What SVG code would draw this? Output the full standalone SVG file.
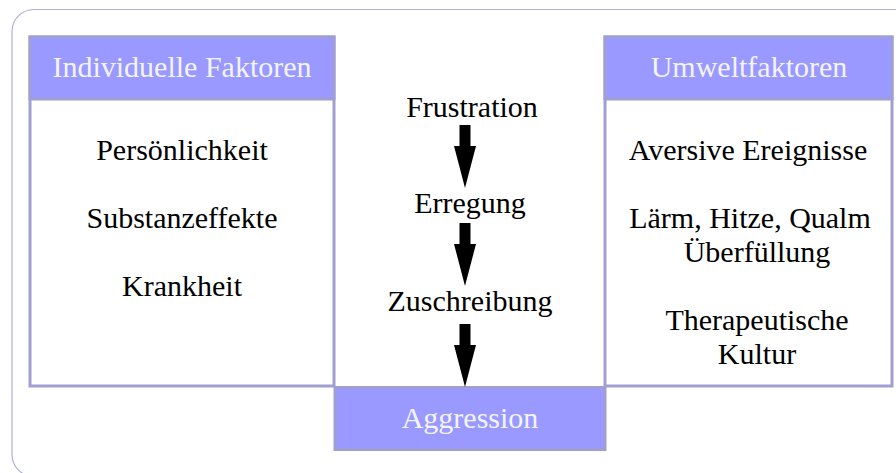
<svg xmlns="http://www.w3.org/2000/svg" width="896" height="473" viewBox="0 0 896 473">
  <style>
    text { font-family: "Liberation Serif", "Times New Roman", serif; font-size: 30px; text-anchor: middle; }
    .body { fill: #000000; }
    .head { fill: #f4f4ff; }
    .box { fill: #ffffff; stroke: #9f9fd3; stroke-width: 3; }
    .hdr { fill: #9999ff; stroke: #9f9fd3; stroke-width: 3; }
    .frame { fill: none; stroke: #b0b0dd; stroke-width: 1.2; }
    .arrow { fill: #000000; stroke: none; }
  </style>
  <defs>
    <path id="arr" class="arrow" d="M-5.5,0 L5.5,0 L5.5,21 L11,21 L0,63 L-11,21 L-5.5,21 Z"/>
  </defs>

  <rect class="frame" x="12" y="9.5" width="910" height="467" rx="22" ry="22"/>

  <g id="individuelle-faktoren">
    <rect class="box" x="30" y="37" width="304" height="349"/>
    <rect class="hdr" x="30" y="37" width="304" height="62"/>
    <text class="head" x="182" y="77">Individuelle Faktoren</text>
    <text class="body" x="182" y="160">Persönlichkeit</text>
    <text class="body" x="182" y="228">Substanzeffekte</text>
    <text class="body" x="182" y="296">Krankheit</text>
  </g>

  <g id="umweltfaktoren">
    <rect class="box" x="605" y="37" width="287" height="349"/>
    <rect class="hdr" x="605" y="37" width="287" height="62"/>
    <text class="head" x="749" y="77">Umweltfaktoren</text>
    <text class="body" x="748" y="160">Aversive Ereignisse</text>
    <text class="body" x="750" y="228">Lärm, Hitze, Qualm</text>
    <text class="body" x="757" y="262">Überfüllung</text>
    <text class="body" x="757" y="330">Therapeutische</text>
    <text class="body" x="757" y="364">Kultur</text>
  </g>

  <g id="frustration"><text class="body" x="472" y="117">Frustration</text></g>
  <g id="erregung"><text class="body" x="470" y="213">Erregung</text></g>
  <g id="zuschreibung"><text class="body" x="470" y="311">Zuschreibung</text></g>

  <g id="aggression">
    <rect class="hdr" x="335" y="387.5" width="270" height="62"/>
    <text class="head" x="470" y="428">Aggression</text>
  </g>

  <g id="connectors">
    <use href="#arr" x="465" y="125"/>
    <use href="#arr" x="465" y="223"/>
    <use href="#arr" x="465" y="324"/>
  </g>
</svg>
